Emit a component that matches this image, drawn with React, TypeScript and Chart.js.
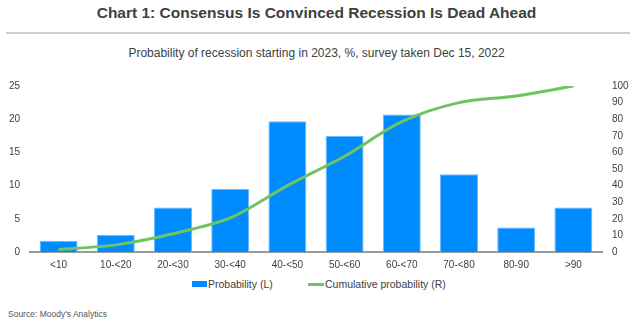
import React, { useEffect, useRef } from "react";
import { Chart, registerables } from "chart.js";

Chart.register(...registerables);

const categories = ["<10", "10-<20", "20-<30", "30-<40", "40-<50", "50-<60", "60-<70", "70-<80", "80-90", ">90"];
const probability = [1.7, 2.6, 6.7, 9.5, 19.7, 17.5, 20.7, 11.7, 3.7, 6.7];
const cumulative = [1.5, 4.3, 11.0, 20.5, 40.0, 57.7, 78.5, 90.0, 94.0, 100.0];
const leftTicks = [0, 5, 10, 15, 20, 25];
const rightTicks = [0, 10, 20, 30, 40, 50, 60, 70, 80, 90, 100];

const FONT = "'Liberation Sans', Arial, sans-serif";
const BLUE = "rgb(0,140,255)";
const GREEN = "rgb(110,196,96)";
const TEXT = "#404040";

export default function App() {
  const ref = useRef<HTMLCanvasElement | null>(null);

  useEffect(() => {
    if (!ref.current) return;
    const chart = new Chart(ref.current, {
      type: "bar",
      data: {
        labels: categories,
        datasets: [
          {
            type: "line",
            label: "Cumulative probability (R)",
            data: cumulative,
            yAxisID: "yR",
            borderColor: GREEN,
            backgroundColor: GREEN,
            borderWidth: 3,
            pointRadius: 0,
            tension: 0.3,
            order: 0,
          },
          {
            type: "bar",
            label: "Probability (L)",
            data: probability,
            yAxisID: "yL",
            backgroundColor: BLUE,
            borderColor: "rgb(110,185,255)",
            borderWidth: 1,
            barPercentage: 0.664,
            categoryPercentage: 1,
            order: 1,
          },
        ],
      },
      options: {
        responsive: false,
        animation: false,
        devicePixelRatio: 1,
        layout: { padding: { top: 15, left: 0, right: 0, bottom: 0 } },
        plugins: {
          legend: { display: false },
          tooltip: { enabled: false },
          title: { display: false },
        },
        scales: {
          x: {
            offset: true,
            grid: { display: false, drawTicks: false },
            border: { display: true, color: "#9a9a9a", width: 2 },
            ticks: { font: { family: FONT, size: 10 }, color: TEXT, padding: 7, maxRotation: 0, autoSkip: false },
            afterFit: (s: any) => { s.height = 23; },
          },
          yL: {
            position: "left",
            min: 0,
            max: 25,
            grid: { display: false, drawTicks: false },
            border: { display: false },
            afterBuildTicks: (s: any) => { s.ticks = leftTicks.map((v) => ({ value: v })); },
            ticks: { font: { family: FONT, size: 10 }, color: TEXT, padding: 10 },
            afterFit: (s: any) => { s.width = 30; },
          },
          yR: {
            position: "right",
            min: 0,
            max: 100,
            grid: { display: false, drawTicks: false },
            border: { display: false },
            afterBuildTicks: (s: any) => { s.ticks = rightTicks.map((v) => ({ value: v })); },
            ticks: { font: { family: FONT, size: 10 }, color: TEXT, padding: 10 },
            afterFit: (s: any) => { s.width = 31; },
          },
        },
      },
    });
    return () => chart.destroy();
  }, []);

  return (
    <div style={{ position: "fixed", left: 0, top: 0, width: 633, height: 325, background: "#fff", fontFamily: FONT, color: TEXT }}>
      <div style={{ position: "absolute", left: 0, top: 4, width: 633, textAlign: "center", fontWeight: "bold", fontSize: 15.5, lineHeight: "18px" }}>
        Chart 1: Consensus Is Convinced Recession Is Dead Ahead
      </div>
      <div style={{ position: "absolute", left: 6, top: 32, width: 624, height: 2, background: "#cfcfcf" }} />
      <div style={{ position: "absolute", left: 0, top: 45, width: 633, textAlign: "center", fontSize: 12, lineHeight: "16px" }}>
        Probability of recession starting in 2023, %, survey taken Dec 15, 2022
      </div>
      <div style={{ position: "absolute", left: 0, top: 70, width: 633, height: 205 }}>
        <canvas ref={ref} width={633} height={205} style={{ display: "block", width: 633, height: 205 }} />
      </div>
      <div style={{ position: "absolute", left: 192, top: 277, height: 14, display: "flex", alignItems: "center", fontSize: 10.5, lineHeight: "14px", whiteSpace: "nowrap" }}>
        <span style={{ display: "inline-block", width: 15, height: 6, background: BLUE, marginRight: 1 }} />
        <span>Probability (L)</span>
      </div>
      <div style={{ position: "absolute", left: 308, top: 277, height: 14, display: "flex", alignItems: "center", fontSize: 10.5, lineHeight: "14px", whiteSpace: "nowrap" }}>
        <span style={{ display: "inline-block", width: 16, height: 3, background: GREEN, marginRight: 1 }} />
        <span>Cumulative probability (R)</span>
      </div>
      <div style={{ position: "absolute", left: 8, top: 308, fontSize: 8.5, lineHeight: "12px", color: "#555", whiteSpace: "nowrap" }}>
        Source: Moody's Analytics
      </div>
    </div>
  );
}
